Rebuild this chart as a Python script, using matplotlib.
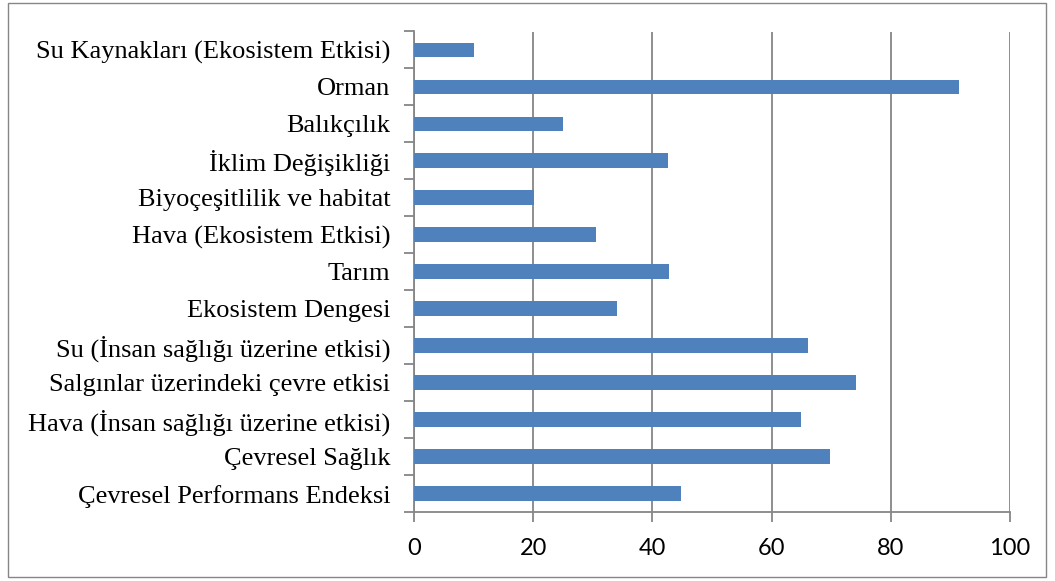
import matplotlib
matplotlib.use("Agg")
import matplotlib.pyplot as plt
from matplotlib.patches import Rectangle
import numpy as np

categories = [
    "Çevresel Performans Endeksi",
    "Çevresel Sağlık",
    "Hava (İnsan sağlığı üzerine etkisi)",
    "Salgınlar üzerindeki çevre etkisi",
    "Su (İnsan sağlığı üzerine etkisi)",
    "Ekosistem Dengesi",
    "Tarım",
    "Hava (Ekosistem Etkisi)",
    "Biyoçeşitlilik ve habitat",
    "İklim Değişikliği",
    "Balıkçılık",
    "Orman",
    "Su Kaynakları (Ekosistem Etkisi)",
]
values = [44.8, 69.8, 64.9, 74.1, 66.1, 34.1, 42.8, 30.6, 20.2, 42.7, 25.0, 91.5, 10.0]
xticks = [0, 20, 40, 60, 80, 100]

W, H = 1055, 581
fig = plt.figure(figsize=(W / 100, H / 100), dpi=100)
fig.patch.set_facecolor("white")

# outer border
fig.patches.append(Rectangle((8 / W, 1 - 577 / H), (1046 - 8) / W, (577 - 3) / H,
                             transform=fig.transFigure, fill=False,
                             edgecolor="#868686", linewidth=1.0))

left, right, top, bottom = 414, 1010, 31.5, 512
ax = fig.add_axes([left / W, 1 - bottom / H, (right - left) / W, (bottom - top) / H])

y = np.arange(len(categories))
ax.barh(y, values, height=0.4, color="#4F81BD", zorder=3)

ax.set_xlim(0, 100)
ax.set_ylim(-0.5, len(categories) - 0.5)
ax.set_xticks(xticks)
ax.set_xticklabels([str(v) for v in xticks], fontfamily="Lato", fontsize=17)
ax.set_yticks(y)
ax.set_yticklabels(categories, fontfamily="Liberation Serif", fontsize=19)
ax.set_yticks(np.arange(-0.5, len(categories), 1.0), minor=True)

ax.tick_params(axis="y", which="major", length=0, pad=17)
ax.tick_params(axis="y", which="minor", length=7, width=1.3, color="#868686")
ax.tick_params(axis="x", which="major", length=7, width=1.3, color="#868686", pad=12)

ax.grid(axis="x", color="#868686", linewidth=1.3, zorder=0)
for s in ["top", "right"]:
    ax.spines[s].set_visible(False)
for s in ["left", "bottom"]:
    ax.spines[s].set_color("#868686")
    ax.spines[s].set_linewidth(1.3)

fig.savefig("out.png", dpi=100)
